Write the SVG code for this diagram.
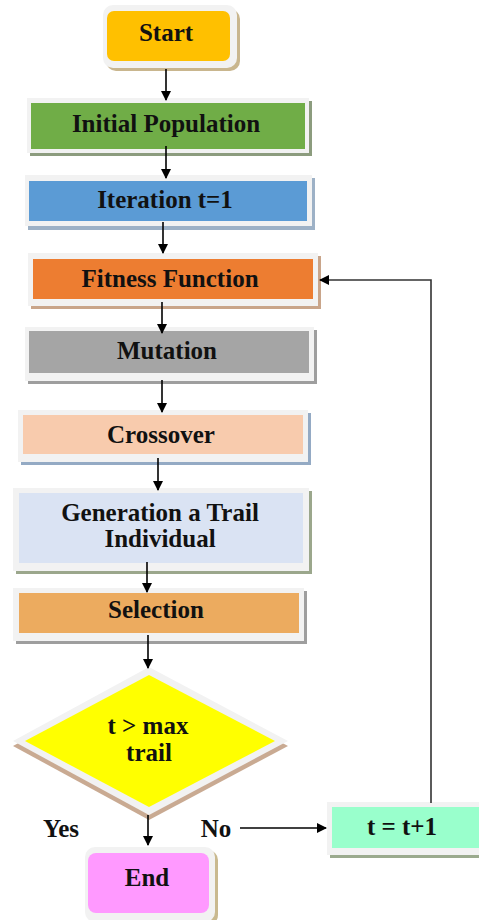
<svg xmlns="http://www.w3.org/2000/svg" width="479" height="920" viewBox="0 0 479 920">
<defs>
<marker id="ah" markerWidth="10" markerHeight="10" refX="9" refY="5" orient="auto" markerUnits="userSpaceOnUse">
<path d="M0,0 L10,5 L0,10 z" fill="#000"/>
</marker>
</defs>
<style>
.frame{fill:#F2F2F2;}
.t{font-family:"Liberation Serif","Times New Roman",serif;font-weight:bold;font-size:25px;fill:#111;text-anchor:middle;}
.c{stroke:#000;stroke-width:1.6;fill:none;marker-end:url(#ah);}
</style>
<rect width="479" height="920" fill="#fff"/>
<g id="start">
<rect x="106" y="9" width="134" height="62" rx="10" fill="#C9B68E"/>
<rect class="frame" x="103" y="5" width="134" height="63" rx="10"/>
<rect x="107" y="11" width="123" height="50" rx="7" fill="#FFC000"/>
<text class="t" x="166" y="41">Start</text>
</g>
<g id="initial">
<rect x="30" y="101" width="282" height="55" fill="#8C9C7E"/>
<rect class="frame" x="27" y="98" width="282" height="55"/>
<rect x="31" y="103" width="274" height="46" fill="#70AD47"/>
<text class="t" x="166" y="132">Initial Population</text>
</g>
<g id="iteration">
<rect x="28" y="178" width="287" height="52" fill="#9DB1C6"/>
<rect class="frame" x="25" y="175" width="287" height="51"/>
<rect x="29" y="181" width="278" height="40" fill="#5B9BD5"/>
<text class="t" x="165" y="208">Iteration t=1</text>
</g>
<g id="fitness">
<rect x="31" y="256" width="290" height="53" fill="#C9A58A"/>
<rect class="frame" x="28" y="253" width="290" height="53"/>
<rect x="33" y="259" width="280" height="40" fill="#ED7D31"/>
<text class="t" x="170" y="287">Fitness Function</text>
</g>
<g id="mutation">
<rect x="28" y="330" width="289" height="54" fill="#9E9E9E"/>
<rect class="frame" x="25" y="327" width="289" height="54"/>
<rect x="29" y="331" width="280" height="42" fill="#A5A5A5"/>
<text class="t" x="167" y="359">Mutation</text>
</g>
<g id="crossover">
<rect x="21" y="413" width="290" height="52" fill="#94AAC4"/>
<rect class="frame" x="18" y="410" width="290" height="52"/>
<rect x="23" y="415" width="280" height="39" fill="#F8CBAD"/>
<text class="t" x="161" y="443">Crossover</text>
</g>
<g id="generation">
<rect x="16" y="491" width="296" height="83" fill="#9BA78C"/>
<rect class="frame" x="13" y="488" width="296" height="83"/>
<rect x="19" y="493" width="284" height="70" fill="#DAE3F3"/>
<text class="t" x="160" y="521">Generation a Trail</text>
<text class="t" x="160" y="547">Individual</text>
</g>
<g id="selection">
<rect x="16" y="591" width="291" height="53" fill="#9E9E9E"/>
<rect class="frame" x="13" y="588" width="291" height="53"/>
<rect x="19" y="593" width="280" height="40" fill="#ECAB5F"/>
<text class="t" x="156" y="618">Selection</text>
</g>
<g id="decision">
<polygon points="149,672 288,746 149,820 13,746" fill="#C9AA92"/>
<polygon class="frame" points="149,667 288,741 149,815 13,741"/>
<polygon points="149,675 275,741 149,807 25,741" fill="#FFFF00"/>
<text class="t" x="148" y="734">t &gt; max</text>
<text class="t" x="149" y="761">trail</text>
</g>
<g id="end">
<rect x="88" y="850" width="130" height="75" rx="10" fill="#C9B98F"/>
<rect class="frame" x="85" y="847" width="130" height="75" rx="10"/>
<rect x="88" y="853" width="121" height="60" rx="8" fill="#FF99FF"/>
<text class="t" x="147" y="886">End</text>
</g>
<g id="increment">
<rect x="330" y="805" width="155" height="53" fill="#9BAA8E"/>
<rect class="frame" x="327" y="802" width="155" height="53"/>
<rect x="332" y="807" width="150" height="41" fill="#99FFCC"/>
<text class="t" x="402" y="835">t = t+1</text>
</g>
<g id="labels">
<text class="t" x="61" y="837">Yes</text>
<text class="t" x="216" y="837">No</text>
</g>
<g id="connectors">
<line class="c" x1="166" y1="69" x2="166" y2="100"/>
<line class="c" x1="166" y1="146" x2="166" y2="178"/>
<line class="c" x1="163" y1="222" x2="163" y2="253"/>
<line class="c" x1="162" y1="302" x2="162" y2="333"/>
<line class="c" x1="162" y1="380" x2="162" y2="412"/>
<line class="c" x1="158" y1="458" x2="158" y2="490"/>
<line class="c" x1="147" y1="562" x2="147" y2="592"/>
<line class="c" x1="148" y1="635" x2="148" y2="668"/>
<line class="c" x1="148" y1="815" x2="148" y2="845"/>
<line class="c" x1="240" y1="828" x2="326" y2="828"/>
<polyline class="c" points="431,803 431,280 320,280" style="stroke:#333"/>
</g>
</svg>
